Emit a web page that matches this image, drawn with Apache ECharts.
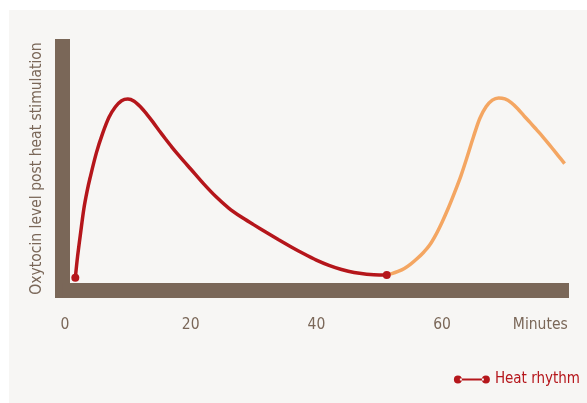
<!DOCTYPE html>
<html>
<head>
<meta charset="utf-8">
<script src="https://cdn.jsdelivr.net/npm/echarts@6/dist/echarts.min.js"></script>
<style>
html,body{margin:0;padding:0;background:#ffffff;}
#c{width:587px;height:403px;}
</style>
</head>
<body>
<div id="c"></div>
<script>
// Minutes (x) and oxytocin level (y, arbitrary units 0-100)
const heatMinutes = [1.64, 2, 2.5, 3, 3.5, 4, 5, 6, 7, 8, 9, 10, 11, 12, 13, 14, 15, 16, 17, 18, 19, 20, 22, 24, 26, 28, 30, 32, 34, 36, 38, 40, 42, 44, 46, 48, 50, 51.2];
const heatLevels  = [5.2, 14, 24, 33.5, 40.5, 46.3, 56.5, 64.5, 71.0, 75.2, 77.8, 78.5, 77.6, 75.3, 72.3, 69.0, 65.5, 62.1, 58.8, 55.7, 52.7, 49.8, 43.9, 38.5, 33.9, 30.2, 27.0, 23.85, 20.8, 17.85, 15.05, 12.45, 10.3, 8.6, 7.35, 6.7, 6.4, 6.4];
const nextMinutes = [51.2, 52, 53, 54, 55, 56, 57, 58, 59, 60, 61, 62, 63, 64, 65, 66, 67, 68, 69, 70, 71, 72, 73, 74, 75, 76, 77, 78, 79, 79.5];
const nextLevels  = [6.4, 6.9, 7.8, 9.0, 10.8, 13.0, 15.5, 18.5, 22.8, 28.0, 33.8, 40.2, 47.0, 54.8, 63.0, 70.5, 75.3, 78.0, 78.9, 78.5, 77.0, 74.6, 71.7, 68.9, 66.0, 63.1, 60.0, 56.8, 53.6, 52.0];
const xTicks = [0, 20, 40, 60, 80];
const xTickLabels = ['0', '20', '40', '60', 'Minutes'];
const yAxisTitle = 'Oxytocin level post heat stimulation';
const legendLabel = 'Heat rhythm';

const RED = '#b5161b';
const ORANGE = '#f4a662';
const BROWN = '#7a6758';
const FONT = '"DejaVu Sans Condensed", "DejaVu Sans", sans-serif';

function pairs(xs, ys, markEnds) {
  return xs.map((x, i) => {
    const item = { value: [x, ys[i]] };
    if (markEnds && (i === 0 || i === xs.length - 1)) {
      item.symbol = 'circle';
      item.symbolSize = 8;
    }
    return item;
  });
}

const chart = echarts.init(document.getElementById('c'), null, { renderer: 'canvas' });
chart.setOption({
  animation: false,
  backgroundColor: '#ffffff',
  graphic: [{
    type: 'rect', z: -10, silent: true,
    shape: { x: 9, y: 10, width: 578, height: 393 },
    style: { fill: '#f7f6f4' }
  }],
  grid: { left: 62.5, right: 18, top: 46.5, bottom: 112.5, containLabel: false, outerBoundsMode: 'none' },
  legend: {
    data: [legendLabel],
    right: 2, top: 367,
    itemWidth: 36, itemHeight: 8, itemGap: 12,
    icon: 'path://M0,4A4,4,0,1,0,8,4A4,4,0,1,0,0,4Z M6,3L30,3L30,5L6,5Z M28,4A4,4,0,1,0,36,4A4,4,0,1,0,28,4Z',
    textStyle: { color: RED, fontFamily: FONT, fontSize: 15 }
  },
  xAxis: {
    type: 'value', min: -0.4, max: 80.2,
    axisLine: { show: true, onZero: false, lineStyle: { color: BROWN, width: 15, cap: 'butt' } },
    axisTick: { show: false },
    splitLine: { show: false },
    axisLabel: {
      customValues: xTicks,
      formatter: v => xTickLabels[xTicks.indexOf(v)],
      alignMaxLabel: 'right',
      color: BROWN, fontFamily: FONT, fontSize: 15.5, margin: 26
    }
  },
  yAxis: {
    type: 'value', min: 0, max: 100,
    name: yAxisTitle, nameLocation: 'middle', nameGap: 18, nameRotate: 90,
    nameTextStyle: { color: BROWN, fontFamily: FONT, fontSize: 15.5 },
    axisLine: { show: true, onZero: false, lineStyle: { color: BROWN, width: 15, cap: 'square' } },
    axisTick: { show: false },
    axisLabel: { show: false },
    splitLine: { show: false }
  },
  series: [
    {
      name: 'next', type: 'line', smooth: 0.3, symbol: 'none', z: 2,
      lineStyle: { color: ORANGE, width: 3.5 },
      itemStyle: { color: ORANGE },
      data: pairs(nextMinutes, nextLevels, false)
    },
    {
      name: legendLabel, type: 'line', smooth: 0.3, symbol: 'none', z: 3,
      lineStyle: { color: RED, width: 3.5 },
      itemStyle: { color: RED },
      data: pairs(heatMinutes, heatLevels, true)
    }
  ]
});
</script>
</body>
</html>
